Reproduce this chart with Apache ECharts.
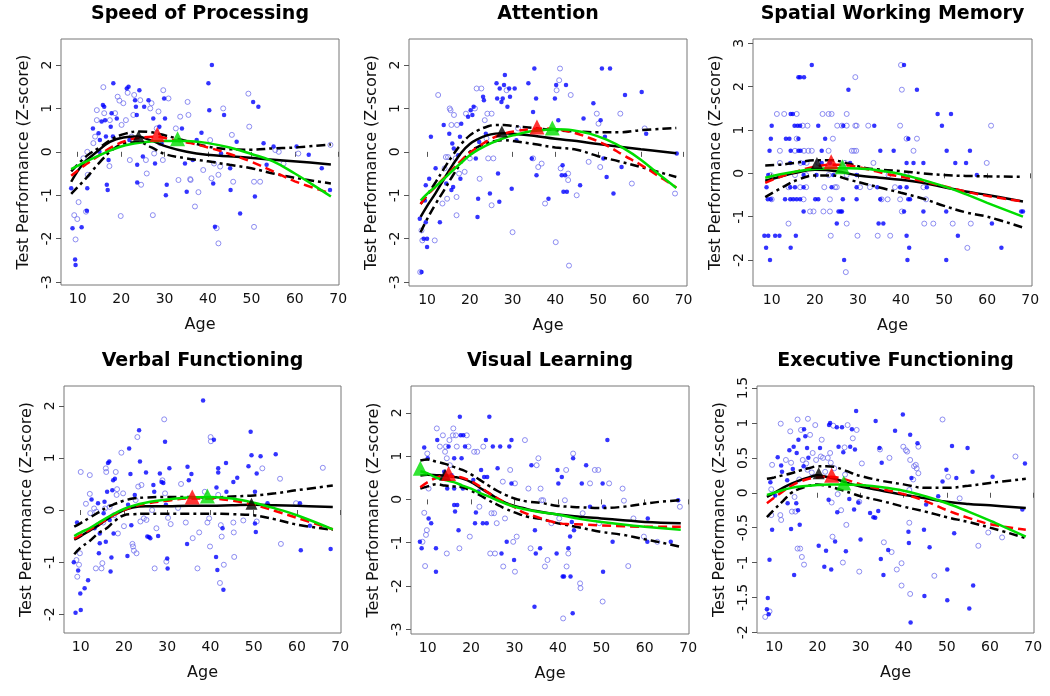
<!DOCTYPE html>
<html><head><meta charset="utf-8">
<script src="https://cdn.jsdelivr.net/npm/echarts@6/dist/echarts.min.js"></script>
<style>html,body{margin:0;padding:0;background:#fff}#c{width:1050px;height:696px}</style>
</head><body><div id="c"></div>
<script>
// ---------- data ----------
const ageTicks = [10, 20, 30, 40, 50, 60, 70];
const titles = ['Speed of Processing', 'Attention', 'Spatial Working Memory', 'Verbal Functioning', 'Visual Learning', 'Executive Functioning'];
const yTicksSop = [-3, -2, -1, 0, 1, 2];
const yTicksAtt = [-3, -2, -1, 0, 1, 2];
const yTicksSwm = [-2, -1, 0, 1, 2, 3];
const yTicksVrb = [-2, -1, 0, 1, 2];
const yTicksVis = [-3, -2, -1, 0, 1, 2];
const yTicksExe = [-2, -1.5, -1, -0.5, 0, 0.5, 1, 1.5];

// Speed of Processing
const sopFilled = [[8.5,-0.84],[8.8,-1.76],[9.4,-2.48],[9.5,-2.61],[10.9,-1.74],[12.1,-1.36],[12.2,-0.84],[13.5,0.54],[14.8,0.43],[15,0],[15.1,0.27],[15.5,0.7],[15.8,1.08],[16.1,1.04],[16.3,0.73],[16.5,0.35],[16.7,-0.76],[16.9,-0.88],[17.1,-0.19],[17.6,0.58],[17.8,0.89],[18.1,0.35],[18.2,1.58],[19.0,0.77],[21.3,1.46],[21.7,1.5],[21.9,0.27],[23.2,1.19],[23.4,1.04],[23.6,0.85],[23.7,-0.3],[23.7,-0.71],[24.2,1.42],[25.0,-0.11],[25.3,1.04],[26.3,1.19],[27.4,0.77],[27.8,-0.27],[28.8,0.58],[29.3,0.2],[29.9,1.23],[30.1,0.77],[30.3,-1.0],[30.5,-0.76],[34.0,0.54],[34.7,-0.27],[35.1,-0.92],[36.5,-0.19],[37.4,0.27],[38.5,0.44],[40.1,1.58],[40.3,0.96],[40.9,2.0],[41.2,-0.73],[41.6,-1.73],[43.0,-0.04],[43.7,0.85],[45.1,-0.38],[45.2,-0.88],[46.6,0.23],[47.4,-1.42],[50.4,1.15],[50.8,-1.03],[51.6,1.04],[52.8,0.2],[53.5,-0.3],[55.1,0.12],[60.4,0.12],[63.2,-0.07],[66.2,-0.38],[68.1,-0.88]];
const sopOpen = [[9.2,-1.46],[9.5,-2.02],[9.9,-1.55],[10.2,-1.16],[11.3,-0.15],[11.9,-1.38],[12.3,-0.53],[12.2,0],[13.6,0.2],[14,0.35],[14.4,0.96],[14.4,0.73],[15.9,1.49],[16.1,0.89],[17.3,-0.33],[17.4,0.73],[18.6,0.89],[19.2,1.27],[19.6,1.18],[19.9,-1.48],[20.1,0.62],[20.5,1.12],[21.1,0.73],[21.5,1.36],[22.0,-0.19],[22.4,0.35],[22.8,0.85],[23.0,1.31],[24.4,1.19],[24.6,-0.76],[25.7,-0.19],[25.9,-0.5],[26.7,1.0],[27.0,1.12],[27.3,-1.46],[27.6,-0.04],[28.2,0.54],[28.6,0.93],[29.0,0.2],[29.6,-0.19],[29.7,1.42],[30.9,1.23],[32.6,0.54],[33.2,-0.65],[33.6,0.81],[35.3,1.15],[35.5,0.85],[35.9,-0.63],[36.0,-0.65],[37.8,-0.93],[38.9,-0.42],[37.0,-1.26],[40.5,0.27],[40.8,-0.61],[41.4,-0.27],[42.0,-1.76],[42.4,-2.11],[42.4,-0.53],[42.8,-0.34],[43.5,1.0],[45.5,0.39],[45.8,-0.69],[49.3,1.34],[49.5,0.58],[50.6,-0.69],[50.6,-1.73],[52.0,-0.69],[55.5,0.04],[56.3,0],[57.4,-0.27],[60.8,-0.04],[68.2,0.16]];
const sopFit = [[8.5,-0.69],[11.3,-0.27],[14.4,0.0],[17.4,0.23],[20.5,0.33],[23.6,0.35],[26.7,0.27],[30.5,0.12],[35.1,0.0],[39.7,-0.07],[45.8,-0.11],[53.5,-0.17],[61.2,-0.23],[68.3,-0.29]];
const sopUpper = [[8.5,-0.45],[12,-0.1],[15,0.1],[18,0.3],[21,0.42],[24,0.47],[27,0.45],[30,0.38],[35,0.25],[40,0.12],[45,0.06],[50,0.05],[55,0.08],[60,0.1],[68.3,0.17]];
const sopLower = [[8.5,-0.97],[12,-0.6],[15,-0.25],[18,0.05],[21,0.2],[24,0.22],[27,0.1],[30,-0.05],[35,-0.15],[40,-0.22],[45,-0.3],[50,-0.38],[55,-0.5],[60,-0.6],[68.3,-0.73]];
const sopRed = [[8.5,-0.55],[12,-0.28],[15,-0.08],[18,0.12],[21,0.25],[24,0.32],[28,0.35],[32,0.27],[36,0.2],[40,0.1],[45,-0.05],[50,-0.23],[55,-0.45],[60,-0.68],[68.3,-0.96]];
const sopGreen = [[8.5,-0.4],[12,-0.22],[15,-0.08],[18,0.05],[21,0.15],[25,0.22],[30,0.25],[35,0.25],[40,0.2],[45,0.1],[50,-0.05],[55,-0.22],[60,-0.5],[64,-0.75],[68.3,-1.03]];
const sopPeaks = [[24.0,0.36],[28.3,0.4],[33.0,0.3]];

// Attention
const attFilled = [[8.3,-1.54],[8.7,-2.77],[9.2,-2.0],[9.5,-1.12],[9.7,-0.77],[9.7,-1.62],[10,-2.19],[10,-2.0],[10.5,-0.62],[10.9,0.35],[12.0,-0.38],[13.0,-1.62],[13.9,0.62],[14.5,-0.73],[15.2,0.42],[15.7,-0.88],[15.9,0.19],[16.1,-0.81],[16.25,0.08],[17.3,-0.08],[17.7,0.35],[17.8,-0.62],[18.0,0.65],[19.6,0.81],[20.2,0.96],[20.6,0.85],[20.9,1.04],[21.4,-0.15],[21.8,-1.5],[21.95,-1.08],[22.2,0.23],[23.1,1.27],[23.3,1.19],[23.75,0.42],[24.7,-0.96],[26.25,1.58],[26.4,1.23],[26.6,-0.5],[26.9,-1.15],[27.0,1.46],[27.4,1.15],[27.7,1.23],[28.0,1.54],[28.2,1.77],[28.8,1.04],[29.2,1.46],[29.4,1.27],[29.8,-0.85],[30.5,1.46],[30.9,0.27],[33.7,1.58],[34.5,-0.15],[34.8,0.92],[35.1,1.92],[35.5,1.23],[35.6,-0.54],[38.4,-1.08],[39.9,1.23],[40.2,1.54],[40.7,0.73],[41.5,-0.54],[41.7,-0.31],[41.9,-0.92],[42.3,-0.54],[42.5,1.54],[42.7,-0.92],[45.8,-0.77],[46.6,0.77],[48.9,1.12],[50.6,0.73],[50.9,1.92],[51.25,-0.15],[51.6,0.35],[52.0,-0.58],[52.8,1.92],[53.6,-0.96],[55.5,-0.35],[56.3,1.31],[60.2,1.38],[61.25,0.42],[68.4,-0.04]];
const attOpen = [[8.4,-2.77],[8.7,-1.81],[8.9,-2.04],[11.8,-2.04],[12.6,1.31],[13.6,-1.19],[14.1,-0.38],[14.4,-0.12],[14.7,-1.08],[14.9,-0.12],[15.3,1.0],[15.5,0.96],[15.7,0.62],[16.3,0.85],[16.7,-0.15],[16.9,-1.04],[16.9,-1.46],[17.0,0.62],[17.5,-0.5],[18.8,-0.46],[19.1,0.88],[20.0,-0.15],[21.2,1.0],[21.6,1.46],[22.3,-0.62],[22.7,1.46],[23.5,0.73],[23.9,0.31],[24.1,0.88],[24.3,-0.15],[25.1,-1.23],[25.1,0.88],[25.5,-0.15],[28.6,1.42],[30.0,-1.85],[31.3,0.54],[34.8,-0.15],[36.0,-0.35],[36.8,-0.27],[37.6,-1.19],[40.3,1.42],[40.1,-2.08],[40.9,1.65],[41.1,1.92],[41.25,-0.38],[43.0,-0.5],[43.0,-0.65],[43.2,-2.62],[43.6,1.31],[45.0,-1.0],[47.8,-0.23],[49.7,0.88],[50.1,0.65],[50.5,-0.35],[55.2,0.88],[57.9,-0.73],[60.9,0.54],[68.0,-0.96]];
const attFit = [[8.5,-1.5],[10,-1.25],[12,-0.95],[14,-0.62],[16,-0.3],[18,-0.02],[20,0.18],[22,0.3],[24,0.38],[26,0.42],[28,0.43],[30,0.42],[35,0.37],[40,0.3],[45,0.25],[50,0.18],[55,0.12],[60,0.06],[68.3,-0.03]];
const attUpper = [[8.5,-1.2],[10,-1.0],[12,-0.7],[14,-0.38],[16,-0.08],[18,0.18],[20,0.38],[22,0.5],[24,0.58],[26,0.62],[28,0.62],[30,0.6],[35,0.55],[40,0.5],[45,0.47],[50,0.45],[55,0.45],[60,0.5],[68.3,0.55]];
const attLower = [[8.5,-1.85],[10,-1.55],[12,-1.2],[14,-0.88],[16,-0.55],[18,-0.25],[20,0.0],[22,0.12],[24,0.2],[26,0.25],[28,0.27],[30,0.25],[35,0.18],[40,0.1],[45,0.05],[50,-0.1],[55,-0.22],[60,-0.35],[68.3,-0.58]];
const attRed = [[8.5,-1.2],[10,-1.0],[12,-0.8],[14,-0.6],[16,-0.4],[18,-0.2],[20,-0.02],[22,0.12],[25,0.3],[28,0.42],[31,0.48],[34,0.52],[37,0.54],[40,0.52],[44,0.45],[48,0.32],[52,0.15],[56,-0.08],[60,-0.3],[64,-0.55],[68.3,-0.82]];
const attGreen = [[8.5,-1.12],[10,-0.97],[12,-0.8],[14,-0.62],[16,-0.43],[18,-0.25],[20,-0.08],[22,0.05],[25,0.2],[28,0.32],[31,0.4],[34,0.47],[37,0.5],[40,0.52],[44,0.5],[48,0.42],[52,0.28],[56,0.08],[60,-0.18],[64,-0.5],[68.3,-0.83]];
const attPeaks = [[27.5,0.47],[35.7,0.57],[39.3,0.55]];

// Spatial Working Memory
const swmFilled = [[19.3,2.5],[40.7,2.5],[16.2,2.22],[16.6,2.22],[17.5,2.22],[27.8,1.93],[43.7,1.93],[14.9,1.37],[14.4,1.37],[48.5,1.37],[51.6,1.37],[10,1.1],[15.3,1.1],[16,1.1],[16.6,1.1],[20.8,1.1],[26.6,1.1],[33.8,1.1],[49.5,1.1],[9.8,0.8],[13.3,0.8],[14.1,0.8],[16.2,0.8],[22.4,0.8],[41.7,0.8],[9.5,0.52],[14.4,0.52],[16.2,0.52],[16.7,0.52],[21.6,0.52],[35.2,0.52],[38.3,0.52],[50.6,0.52],[56,0.52],[14.3,0.24],[17.4,0.24],[21.6,0.24],[23.5,0.24],[28.2,0.24],[41.3,0.24],[42.9,0.24],[45.2,0.24],[52.6,0.24],[55.1,0.24],[9.2,-0.04],[17.4,-0.04],[20.4,-0.04],[24.3,-0.04],[29.7,-0.04],[57.6,-0.04],[8.8,-0.32],[14.3,-0.32],[15.4,-0.32],[17.4,-0.32],[23.9,-0.32],[29.7,-0.32],[34.5,-0.32],[39.8,-0.32],[41.3,-0.32],[46.0,-0.32],[9.1,-0.6],[9.8,-0.6],[13.1,-0.6],[14.3,-0.6],[15.0,-0.6],[15.8,-0.6],[16.6,-0.6],[20.1,-0.6],[20.8,-0.6],[26.5,-0.6],[29.7,-0.6],[35.2,-0.6],[41.7,-0.6],[42.1,-0.6],[17.4,-0.88],[25.5,-0.88],[26,-0.88],[26.3,-0.88],[40.7,-0.88],[45.2,-0.88],[50.5,-0.88],[67.9,-0.88],[68.3,-0.88],[25.1,-1.16],[34.8,-1.16],[35.9,-1.16],[61.1,-1.16],[8.3,-1.44],[9.2,-1.44],[10.8,-1.44],[11.8,-1.44],[15.6,-1.44],[41.3,-1.44],[53.2,-1.44],[8.7,-1.72],[14.4,-1.72],[41.9,-1.72],[63.3,-1.72],[9.6,-2.0],[26.8,-2.0],[41.5,-2.0],[50.5,-2.0]];
const swmOpen = [[40.0,2.5],[29.4,2.22],[40.2,1.93],[11.2,1.37],[12.9,1.37],[15.8,1.37],[21.8,1.37],[23.2,1.37],[23.9,1.37],[27.4,1.37],[17.2,1.1],[18.3,1.1],[25.2,1.1],[26.3,1.1],[27.4,1.1],[29.4,1.1],[29.7,1.1],[32.4,1.1],[39.8,1.1],[60.9,1.1],[15.8,0.8],[24.2,0.8],[41.3,0.8],[43.7,0.8],[11.9,0.52],[15.4,0.52],[17.5,0.52],[18.5,0.52],[19.3,0.52],[23.2,0.52],[28.6,0.52],[29.1,0.52],[29.6,0.52],[42.9,0.52],[11.9,0.24],[16.7,0.24],[18.1,0.24],[20.8,0.24],[27,0.24],[33.6,0.24],[59.9,0.24],[9.8,-0.04],[15.4,-0.04],[18,-0.04],[23.2,-0.04],[27.4,-0.04],[37.1,-0.04],[41.3,-0.04],[13.9,-0.32],[16.6,-0.32],[18,-0.32],[22.2,-0.32],[24.7,-0.32],[25.1,-0.32],[30.5,-0.32],[32.8,-0.32],[38.6,-0.32],[45.2,-0.32],[10,-0.6],[17.4,-0.6],[23.5,-0.6],[35.5,-0.6],[36.9,-0.6],[39.8,-0.6],[45.8,-0.6],[18.9,-0.88],[19.7,-0.88],[22.0,-0.88],[23.5,-0.88],[40.2,-0.88],[13.9,-1.16],[27.4,-1.16],[45.4,-1.16],[47.5,-1.16],[52,-1.16],[56.2,-1.16],[23.7,-1.44],[29.9,-1.44],[34.6,-1.44],[37.5,-1.44],[55.4,-1.72],[27.2,-2.28]];
const swmFit = [[8.5,-0.17],[12,-0.08],[15,0.0],[20,0.08],[25,0.05],[30,-0.05],[35,-0.1],[40,-0.15],[45,-0.22],[50,-0.32],[55,-0.42],[60,-0.5],[68.3,-0.65]];
const swmUpper = [[8.5,0.18],[12,0.2],[16,0.25],[20,0.3],[24,0.3],[28,0.22],[32,0.12],[36,0.08],[40,0.05],[45,0.0],[50,-0.04],[55,-0.06],[60,-0.07],[68.3,-0.08]];
const swmLower = [[8.5,-0.55],[12,-0.35],[16,-0.15],[20,-0.05],[24,-0.05],[28,-0.15],[32,-0.25],[36,-0.35],[40,-0.45],[45,-0.58],[50,-0.75],[55,-0.9],[60,-1.0],[68.3,-1.25]];
const swmRed = [[8.5,-0.22],[12,-0.08],[16,0.05],[20,0.15],[24,0.2],[28,0.18],[32,0.1],[36,0.0],[40,-0.08],[45,-0.18],[50,-0.3],[55,-0.42],[60,-0.52],[68.3,-0.65]];
const swmGreen = [[8.5,-0.1],[12,-0.02],[16,0.05],[20,0.1],[24,0.12],[28,0.12],[32,0.1],[36,0.05],[40,-0.02],[45,-0.15],[50,-0.3],[55,-0.48],[60,-0.68],[68.3,-1.0]];
const swmPeaks = [[20.5,0.24],[23.8,0.27],[26.4,0.15]];

// Verbal Functioning
const vrbFilled = [[8.4,-1.0],[8.8,-1.97],[9.15,-0.24],[9.4,-1.16],[9.9,-1.6],[10,-1.92],[10.9,-1.5],[11.7,-1.35],[12.5,0.2],[13.2,-0.35],[14.0,0.13],[14.2,-0.83],[14.4,-0.64],[14.4,-0.45],[15.3,-0.06],[15.5,0.16],[15.8,-0.61],[16.1,0.35],[16.3,0.9],[16.6,0.93],[16.7,-0.19],[16.9,-1.18],[17.1,-0.91],[17.3,0.38],[17.5,0.57],[17.6,-0.45],[17.9,0.6],[20.8,-0.88],[20.95,0.1],[21.2,1.18],[21.5,0.69],[21.7,-0.29],[22.5,0.29],[23.5,1.53],[23.7,0.93],[25.1,0.72],[25.4,-0.51],[25.8,-0.52],[26.1,-0.54],[26.8,0.48],[27.0,0.35],[27.9,-0.5],[28.3,0.7],[28.7,0.54],[29.1,0.52],[29.5,1.31],[29.7,0.1],[30.0,-0.93],[30.1,-1.12],[30.5,0.8],[34.6,-0.65],[34.7,0.83],[35.0,0.57],[35.6,0.69],[38.3,2.1],[40.8,1.35],[41.3,-0.9],[41.4,0.43],[41.6,-1.15],[41.8,0.8],[41.8,0.72],[42.8,-0.35],[43.0,-1.53],[43.6,0.9],[43.7,0.35],[45.3,0.54],[46.2,0.62],[48.8,0.84],[49.3,1.5],[49.5,1.05],[50.3,0.35],[50.3,-0.26],[50.5,-0.42],[50.7,0.7],[51.6,1.03],[53.2,0.13],[55.1,1.07],[60.7,0.13],[60.9,-0.77],[63.0,-0.3],[67.8,-0.75]];
const vrbOpen = [[9.0,-0.96],[9.2,-1.28],[9.6,-1.05],[9.8,-0.83],[10,0.73],[11.2,0.12],[12.1,0.67],[12.1,0.31],[12.2,-0.06],[13.1,0.03],[13.5,-1.12],[13.6,-0.03],[14.8,-1.12],[15.0,-1.02],[15.2,-0.24],[15.6,0.03],[15.8,0.8],[15.9,0.73],[16.7,0.06],[17.7,-0.1],[18.1,0.73],[18.3,0.29],[18.4,0.4],[18.6,-0.45],[19.4,1.1],[19.8,0.32],[20.0,-0.31],[21.96,-0.65],[22.1,-0.7],[22.3,-0.78],[22.7,0.19],[22.9,-0.83],[23.1,1.4],[23.3,0.45],[23.8,-0.22],[24.05,0.48],[24.6,-0.16],[25.2,-0.19],[26.5,0.0],[27.1,-1.12],[27.5,-0.35],[28.9,0.57],[29.3,1.74],[29.5,0.32],[29.8,-0.99],[30.2,-0.15],[30.8,-0.27],[32.5,0.04],[33.2,0.5],[34.3,-0.24],[35.9,-0.54],[37.0,-1.12],[37.4,-0.43],[38.7,0.35],[39.3,-0.24],[39.7,-0.16],[39.9,-0.7],[40.04,1.4],[40.1,1.32],[41.8,0.29],[42.2,-1.4],[42.4,-0.29],[42.6,-0.51],[43.1,-1.05],[45.3,-0.24],[45.4,-0.43],[45.5,-0.9],[47.6,-0.2],[50.7,-0.22],[52.0,0.8],[56.1,0.6],[56.3,-0.65],[59.8,0.13],[66.0,0.81]];
const vrbFit = [[8.5,-0.57],[10,-0.5],[12,-0.4],[14,-0.3],[16,-0.18],[18,-0.08],[20,0.0],[22,0.05],[25,0.07],[30,0.07],[35,0.08],[40,0.08],[45,0.09],[50,0.1],[55,0.09],[60,0.08],[68.3,0.06]];
const vrbUpper = [[8.5,-0.32],[10,-0.25],[12,-0.15],[14,-0.05],[16,0.05],[18,0.12],[20,0.18],[22,0.22],[25,0.24],[30,0.25],[35,0.25],[40,0.24],[45,0.26],[50,0.28],[55,0.32],[60,0.38],[68.3,0.47]];
const vrbLower = [[8.5,-0.85],[10,-0.72],[12,-0.6],[14,-0.45],[16,-0.35],[18,-0.2],[20,-0.1],[22,-0.08],[25,-0.07],[30,-0.07],[35,-0.07],[40,-0.07],[45,-0.08],[50,-0.1],[55,-0.18],[60,-0.28],[68.3,-0.38]];
const vrbRed = [[8.5,-0.55],[10,-0.48],[12,-0.38],[14,-0.28],[16,-0.18],[18,-0.08],[20,0.0],[22,0.06],[25,0.12],[30,0.18],[35,0.22],[40,0.22],[45,0.18],[50,0.1],[55,-0.02],[60,-0.15],[68.3,-0.37]];
const vrbGreen = [[8.5,-0.5],[10,-0.43],[12,-0.35],[14,-0.25],[16,-0.15],[18,-0.06],[20,0.02],[22,0.08],[25,0.14],[30,0.2],[35,0.24],[40,0.25],[45,0.22],[50,0.14],[55,0.03],[60,-0.1],[68.3,-0.37]];
const vrbPeaks = [[49.5,0.12],[35.8,0.25],[39.3,0.27]];

// Visual Learning
const visFilled = [[8.2,-0.98],[8.6,-1.13],[9.2,1.2],[10,0.95],[10.2,-0.44],[10.8,-0.55],[11.9,-1.13],[11.9,-1.67],[12.2,1.37],[12.5,0.52],[13.8,0.64],[14.5,0.25],[14.8,1.22],[15.5,0.56],[16.1,0.95],[16.1,0.25],[16.1,-0.13],[16.3,-0.28],[16.8,-0.13],[17.1,-0.71],[17.4,1.91],[17.6,1.48],[17.8,0.95],[18.1,0.25],[18.2,1.48],[18.6,1.22],[20.5,0.45],[20.9,-0.55],[21.1,-0.3],[21.7,0.18],[22.3,0.68],[22.7,-0.55],[23.0,0.52],[23.4,1.37],[23.6,-0.55],[23.7,0.52],[24.2,1.91],[25.0,1.22],[26.1,0.72],[26.7,1.22],[27.0,-1.25],[28.2,-0.98],[28.8,1.22],[29.3,1.37],[29.3,0.37],[29.9,-1.4],[33.9,0.79],[34.6,-2.48],[34.7,-0.71],[34.9,-1.25],[35.9,-1.13],[39.7,-1.25],[39.9,0.68],[40.1,0.37],[40.9,0.52],[41.1,-1.78],[41.4,-1.78],[42.4,-1.13],[42.8,-0.86],[42.9,-1.78],[43.2,-0.52],[43.4,-2.63],[43.5,0.95],[43.7,-0.71],[45.5,0.37],[46.5,0.79],[47.4,-0.17],[50.3,0.37],[50.4,-1.67],[50.6,-0.17],[51.4,1.37],[52.6,-0.98],[60.6,-0.98],[60.7,-0.44],[66.0,-0.98],[67.7,-0.02]];
const visOpen = [[8.8,-0.98],[9.2,-0.31],[9.4,-1.54],[9.6,-0.82],[9.8,-0.71],[9.9,1.06],[10.2,0.25],[11.7,0.52],[12.1,1.64],[12.8,1.22],[13.5,1.48],[14.0,1.1],[14.2,1.22],[14.4,-1.25],[14.4,0.95],[15.0,1.37],[15.1,0.79],[15.8,1.48],[15.9,1.64],[16.5,1.48],[16.7,1.22],[17.3,-1.13],[19.0,1.48],[19.4,1.22],[19.7,-0.86],[20.7,1.1],[21.4,1.1],[21.9,-0.17],[22.8,1.22],[24.4,-1.25],[24.7,-0.32],[25.3,-0.32],[25.5,-1.25],[25.9,-0.55],[27.3,0.41],[27.4,-1.55],[27.8,-0.44],[29.0,0.68],[29.7,-0.98],[30.1,-1.67],[30.1,0.37],[30.5,-0.86],[32.4,1.37],[33.2,0.25],[33.7,-1.13],[35.1,0.79],[35.5,0.95],[36.0,0.25],[36.2,-0.02],[36.6,-0.02],[37.0,-1.55],[37.6,-1.4],[38.5,-0.55],[40.3,-0.44],[41.2,-2.75],[41.6,-0.02],[41.9,0.68],[42.0,-1.55],[42.4,-1.25],[43.5,1.06],[45.1,-1.94],[45.2,-2.05],[45.7,-0.32],[47.4,0.37],[48.5,0.68],[49.3,0.68],[49.5,-0.55],[50.3,-2.36],[51.8,0.37],[54.9,0.25],[55.2,-0.03],[56.2,-1.54],[57.4,-0.44],[59.8,-0.86],[62.9,-0.98],[68.1,-0.17]];
const visFit = [[8.3,0.55],[10,0.57],[12,0.56],[14,0.55],[16,0.52],[18,0.48],[20,0.4],[22,0.27],[24,0.15],[26,0.02],[28,-0.08],[30,-0.15],[32,-0.2],[35,-0.27],[40,-0.35],[45,-0.4],[50,-0.44],[55,-0.48],[60,-0.52],[68.3,-0.55]];
const visUpper = [[8.3,0.9],[10,0.92],[12,0.87],[14,0.82],[16,0.75],[18,0.68],[20,0.58],[22,0.45],[24,0.32],[26,0.2],[28,0.1],[30,0.02],[33,-0.05],[36,-0.08],[40,-0.15],[45,-0.18],[50,-0.2],[55,-0.17],[60,-0.1],[64,-0.05],[68.3,-0.02]];
const visLower = [[8.3,0.25],[10,0.3],[12,0.35],[14,0.32],[16,0.3],[18,0.28],[20,0.2],[22,0.1],[24,-0.02],[26,-0.12],[28,-0.22],[30,-0.3],[33,-0.4],[36,-0.45],[40,-0.55],[45,-0.65],[50,-0.75],[55,-0.82],[60,-0.92],[64,-1.0],[68.3,-1.1]];
const visRed = [[8.3,0.28],[10,0.4],[12,0.5],[14,0.55],[16,0.53],[18,0.5],[20,0.42],[22,0.3],[24,0.15],[26,0.03],[28,-0.08],[30,-0.18],[32,-0.3],[35,-0.4],[38,-0.5],[42,-0.57],[46,-0.58],[50,-0.6],[55,-0.62],[60,-0.63],[68.3,-0.63]];
const visGreen = [[8.3,0.65],[10,0.6],[12,0.5],[14,0.45],[16,0.4],[18,0.32],[20,0.25],[22,0.15],[24,0.07],[26,-0.02],[28,-0.1],[30,-0.17],[32,-0.22],[35,-0.28],[40,-0.35],[45,-0.45],[50,-0.52],[55,-0.58],[60,-0.63],[68.3,-0.7]];
const visPeaks = [[14.0,0.57],[14.8,0.6],[8.3,0.72]];

// Executive Functioning
const exeFilled = [[8.3,-1.67],[8.5,-1.51],[8.7,-1.74],[8.9,-0.96],[9.1,0.15],[9.5,-0.53],[10.2,-0.04],[10.8,0.51],[11.6,0.39],[11.8,0.3],[13.0,0.18],[13.1,-0.15],[13.5,0.61],[13.9,-0.52],[14.3,0.34],[14.5,0.66],[14.6,-1.18],[15.1,-0.15],[15.2,0.57],[15.5,-0.25],[15.6,0.76],[15.9,-0.46],[16.8,0.38],[16.9,0.91],[17.2,0.81],[17.6,0.64],[17.9,0.5],[20.3,-0.76],[20.6,0.64],[21.6,-1.06],[22.0,-0.83],[22.6,-0.1],[22.7,0.97],[22.95,1.0],[23.2,-1.1],[24.1,-0.7],[24.5,0.94],[24.6,-0.28],[24.9,0.66],[25.7,0.94],[26.0,0.58],[26.6,-0.84],[27.4,-0.09],[27.6,0.66],[28.0,0.91],[28.5,-0.24],[28.7,0.62],[28.97,1.17],[29.5,-0.14],[30.0,-0.67],[32.2,-0.29],[32.98,-0.35],[33.4,-0.36],[33.5,1.03],[34.1,-0.26],[34.4,0.64],[34.7,-0.95],[34.9,0.43],[35.3,-1.18],[36.4,-0.82],[38.0,0.89],[39.8,1.12],[41.1,-0.56],[41.2,-0.72],[41.5,0.83],[41.6,-1.86],[41.8,0.21],[43.2,0.71],[44.7,-0.53],[44.8,-1.48],[45.2,-0.17],[46.0,-0.78],[48.0,-0.05],[49.0,0.16],[49.9,0.33],[50.1,-1.1],[50.1,-1.54],[51.2,0.67],[51.7,-0.58],[52.2,0.21],[54.8,0.64],[55.2,-1.66],[55.96,0.3],[56.1,-1.33],[60.6,0.23],[67.5,-0.24],[68.1,0.42]];
const exeOpen = [[7.9,-1.78],[8.9,-1.7],[9.3,0.05],[9.3,-0.32],[9.5,0.4],[11.4,-0.32],[11.5,0.99],[11.6,-0.39],[12.7,0.47],[13.7,0.88],[13.9,0.43],[14.1,-0.27],[14.7,-0.06],[14.9,-0.27],[15.4,1.05],[15.4,-0.8],[15.8,0.19],[16.0,-0.8],[16.2,0.9],[16.4,-0.92],[16.6,0.47],[16.9,-1.03],[17.4,0.42],[17.7,0.33],[17.8,1.06],[18.3,0.83],[18.7,0.29],[18.9,0.57],[19.5,0.97],[19.7,0.47],[20.8,0.52],[21.0,0.76],[21.3,0.5],[21.8,0.3],[22.4,0.5],[22.95,0.57],[23.1,0.43],[23.3,-0.14],[23.5,-0.63],[23.7,0.96],[23.9,0.35],[24.7,-0.02],[25.5,-0.25],[25.9,-1.0],[26.3,0.65],[26.4,0.26],[26.7,-0.46],[27.0,0.97],[28.2,0.78],[29.1,0.9],[29.7,-0.13],[29.7,-1.13],[30.3,0.42],[34.5,0.62],[35.4,-0.71],[36.7,0.5],[37.2,-0.85],[38.4,-1.1],[39.5,-1.01],[39.5,-1.33],[39.9,0.66],[40.5,0.61],[40.8,0.59],[41.3,0.04],[41.3,-0.43],[41.5,0.47],[41.5,-1.45],[42.2,0.19],[42.4,0.38],[42.8,0.4],[43.0,0.35],[43.4,0.66],[43.4,0.28],[47.1,-1.19],[49.0,1.05],[50.3,0.23],[52.98,-0.08],[57.3,-0.76],[59.6,-0.57],[60.7,-0.44],[62.8,-0.64],[65.9,0.52]];
const exeFit = [[8.3,-0.06],[10,0.0],[12,0.07],[14,0.13],[16,0.18],[18,0.22],[20,0.25],[22,0.23],[24,0.2],[26,0.16],[28,0.12],[30,0.09],[35,0.03],[40,-0.03],[45,-0.08],[50,-0.13],[55,-0.16],[60,-0.18],[68.3,-0.22]];
const exeUpper = [[8.3,0.2],[10,0.22],[12,0.25],[14,0.28],[16,0.32],[18,0.35],[20,0.38],[22,0.38],[24,0.37],[26,0.33],[28,0.28],[30,0.24],[35,0.17],[40,0.12],[45,0.07],[50,0.07],[55,0.1],[60,0.14],[68.3,0.2]];
const exeLower = [[8.3,-0.35],[10,-0.24],[12,-0.12],[14,0.0],[16,0.06],[18,0.1],[20,0.12],[22,0.1],[24,0.07],[26,0.03],[28,-0.01],[30,-0.05],[35,-0.12],[40,-0.2],[45,-0.27],[50,-0.35],[55,-0.42],[60,-0.5],[68.3,-0.65]];
const exeRed = [[8.3,-0.15],[10,-0.07],[12,0.02],[14,0.1],[16,0.16],[18,0.2],[20,0.22],[23,0.23],[26,0.2],[30,0.12],[35,0.05],[40,-0.02],[45,-0.12],[50,-0.25],[55,-0.36],[60,-0.45],[68.3,-0.53]];
const exeGreen = [[8.3,-0.03],[10,0.0],[12,0.04],[14,0.07],[16,0.09],[18,0.1],[20,0.11],[23,0.12],[26,0.12],[30,0.11],[35,0.08],[40,0.03],[45,-0.05],[50,-0.15],[55,-0.27],[60,-0.4],[68.3,-0.63]];
const exePeaks = [[20.3,0.28],[23.3,0.25],[26.1,0.14]];

// ---------- layout ----------
const FONT = 'DejaVu Sans';
const panels = [
  {box:[61,39,339,285],   xr:[6.15,70.17], yr:[-3.07,2.6],  yt:yTicksSop, f:sopFilled, o:sopOpen, fit:sopFit, up:sopUpper, lo:sopLower, red:sopRed, green:sopGreen, pk:sopPeaks},
  {box:[409,39,687,286],  xr:[5.78,70.8],  yr:[-3.09,2.6],  yt:yTicksAtt, f:attFilled, o:attOpen, fit:attFit, up:attUpper, lo:attLower, red:attRed, green:attGreen, pk:attPeaks},
  {box:[753,39,1032,286], xr:[5.66,70.4],  yr:[-2.6,3.1],   yt:yTicksSwm, f:swmFilled, o:swmOpen, fit:swmFit, up:swmUpper, lo:swmLower, red:swmRed, green:swmGreen, pk:swmPeaks},
  {box:[64,386,341,633],  xr:[6.13,70.2],  yr:[-2.36,2.38], yt:yTicksVrb, f:vrbFilled, o:vrbOpen, fit:vrbFit, up:vrbUpper, lo:vrbLower, red:vrbRed, green:vrbGreen, pk:vrbPeaks},
  {box:[411,386,689,634], xr:[6.15,70.2],  yr:[-3.11,2.62], yt:yTicksVis, f:visFilled, o:visOpen, fit:visFit, up:visUpper, lo:visLower, red:visRed, green:visGreen, pk:visPeaks},
  {box:[757,386,1034,633],xr:[6.0,70.2],   yr:[-2.01,1.53], yt:yTicksExe, f:exeFilled, o:exeOpen, fit:exeFit, up:exeUpper, lo:exeLower, red:exeRed, green:exeGreen, pk:exePeaks}
];
const W = 1050, H = 696;
const option = {animation:false, backgroundColor:'#ffffff', textStyle:{fontFamily:FONT},
  title:[], grid:[], xAxis:[], yAxis:[], series:[]};
const peakColors = ['#000000','#ff0000','#00dd00'];
const peakSizes = [12,15,15];
panels.forEach((p,i)=>{
  const [l,t,r,b] = p.box;
  option.grid.push({left:l, top:t, width:r-l, height:b-t, show:true, borderColor:'#777', borderWidth:1, backgroundColor:'transparent', containLabel:false});
  option.title.push({text:titles[i], left:(l+r)/2, top:t-34, textAlign:'center', padding:0,
    textStyle:{fontFamily:FONT, fontSize:19, fontWeight:'bold', color:'#000'}});
  option.xAxis.push({type:'value', gridIndex:i, min:p.xr[0], max:p.xr[1],
    axisLine:{show:false}, splitLine:{show:false},
    axisTick:{show:true, customValues:ageTicks, length:5, lineStyle:{color:'#555'}},
    axisLabel:{customValues:ageTicks, fontSize:14, margin:7, color:'#111', fontFamily:FONT},
    name:'Age', nameLocation:'middle', nameGap:32, nameTextStyle:{fontSize:16, color:'#111', fontFamily:FONT}});
  option.yAxis.push({type:'value', gridIndex:i, min:p.yr[0], max:p.yr[1],
    axisLine:{show:false}, splitLine:{show:false},
    axisTick:{show:true, customValues:p.yt, length:5, lineStyle:{color:'#555'}},
    axisLabel:{customValues:p.yt, fontSize:14, margin:7, rotate:90, color:'#111', fontFamily:FONT},
    name:'Test Performance (Z-score)', nameLocation:'middle', nameGap:29, nameRotate:90,
    nameTextStyle:{fontSize:16, color:'#111', fontFamily:FONT}});
  option.series.push({type:'scatter', xAxisIndex:i, yAxisIndex:i, data:p.o, symbol:'circle', symbolSize:5,
    itemStyle:{color:'rgba(0,0,0,0)', borderColor:'#7272ee', borderWidth:1}, z:2, silent:true});
  option.series.push({type:'scatter', xAxisIndex:i, yAxisIndex:i, data:p.f, symbol:'circle', symbolSize:4.5,
    itemStyle:{color:'#0000ff'}, z:2, silent:true});
  const line = (d,color,type,z)=>({type:'line', xAxisIndex:i, yAxisIndex:i, data:d, symbol:'none', smooth:0.4,
    lineStyle:{color, width:2.5, type}, z, silent:true});
  option.series.push(line(p.fit,'#000','solid',3));
  option.series.push(line(p.up,'#000',[9,4,3,4],3));
  option.series.push(line(p.lo,'#000',[9,4,3,4],3));
  option.series.push(line(p.red,'#ff0000',[9,5],4));
  option.series.push(line(p.green,'#00dd00','solid',5));
  option.series.push({type:'scatter', xAxisIndex:i, yAxisIndex:i, symbol:'triangle', z:6, silent:true,
    data:p.pk.map((v,k)=>({value:v, symbolSize:peakSizes[k], itemStyle:{color:peakColors[k]}}))});
});
const chart = echarts.init(document.getElementById('c'), null, {renderer:'canvas', width:W, height:H});
chart.setOption(option);
</script></body></html>
